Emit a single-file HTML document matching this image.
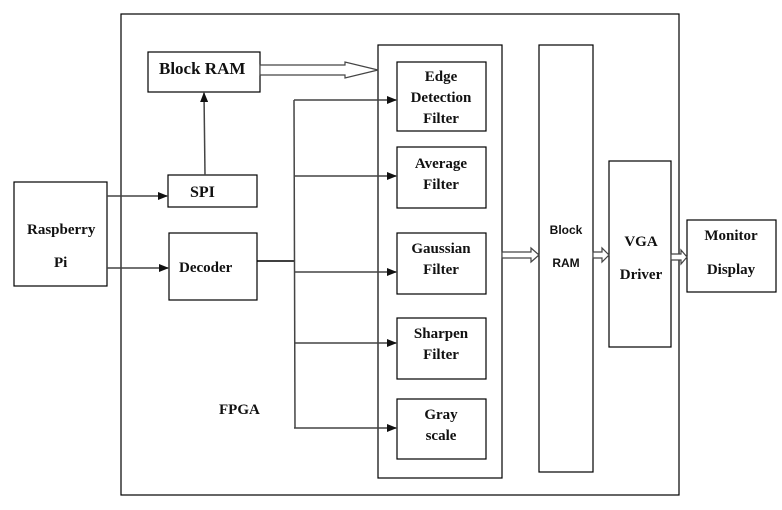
<!DOCTYPE html>
<html><head><style>
html,body{margin:0;padding:0;background:#fff;}
svg{display:block;}
text{font-family:"Liberation Serif",serif;font-weight:bold;font-size:15px;fill:#111;}
.s{font-family:"Liberation Sans",sans-serif;font-size:12px;}
</style></head><body>
<svg width="782" height="510" viewBox="0 0 782 510">
<defs>
<marker id="a" markerWidth="10" markerHeight="8" refX="9" refY="4" orient="auto" markerUnits="userSpaceOnUse">
<path d="M0,0 L10,4 L0,8 Z" fill="#111"/></marker>
</defs>
<g fill="none" stroke="#000" stroke-width="1.2">
<rect x="121" y="14" width="558" height="481"/>
<rect x="148" y="52" width="112" height="40"/>
<rect x="168" y="175" width="89" height="32"/>
<rect x="169" y="233" width="88" height="67"/>
<rect x="14" y="182" width="93" height="104"/>
<rect x="378" y="45" width="124" height="433"/>
<rect x="397" y="62" width="89" height="69"/>
<rect x="397" y="147" width="89" height="61"/>
<rect x="397" y="233" width="89" height="61"/>
<rect x="397" y="318" width="89" height="61"/>
<rect x="397" y="399" width="89" height="60"/>
<rect x="539" y="45" width="54" height="427"/>
<rect x="609" y="161" width="62" height="186"/>
<rect x="687" y="220" width="89" height="72"/>
</g>
<g stroke="#444" stroke-width="1.5" fill="none">
<line x1="107" y1="196" x2="167" y2="196" marker-end="url(#a)"/>
<line x1="107" y1="268" x2="168" y2="268" marker-end="url(#a)"/>
<line x1="205" y1="175" x2="204" y2="93" marker-end="url(#a)"/>
<line x1="257" y1="261" x2="294" y2="261" stroke="#000"/>
<line x1="294" y1="100" x2="295" y2="428"/>
<line x1="294" y1="100" x2="396" y2="100" marker-end="url(#a)"/>
<line x1="294" y1="176" x2="396" y2="176" marker-end="url(#a)"/>
<line x1="294" y1="272" x2="396" y2="272" marker-end="url(#a)"/>
<line x1="294" y1="343" x2="396" y2="343" marker-end="url(#a)"/>
<line x1="294" y1="428" x2="396" y2="428" marker-end="url(#a)"/>
</g>
<g fill="#fff" stroke="#444" stroke-width="1.2">
<path d="M260,65 L345,65 L345,62 L378,70 L345,78 L345,75 L260,75 Z"/>
<path d="M502,252 L531,252 L531,248 L539,255 L531,262 L531,258 L502,258 Z"/>
<path d="M593,252 L602,252 L602,248 L609,255 L602,262 L602,258 L593,258 Z"/>
<path d="M671,254 L681,254 L681,250 L687,257 L681,264 L681,260 L671,260 Z"/>
</g>
<text x="159" y="74" style="font-size:17px">Block RAM</text>
<text x="190" y="197" style="font-size:16px">SPI</text>
<text x="179" y="272">Decoder</text>
<text x="27" y="234">Raspberry</text>
<text x="54" y="267">Pi</text>
<text x="219" y="414">FPGA</text>
<text x="441" y="81" text-anchor="middle">Edge</text>
<text x="441" y="102" text-anchor="middle">Detection</text>
<text x="441" y="123" text-anchor="middle">Filter</text>
<text x="441" y="168" text-anchor="middle">Average</text>
<text x="441" y="189" text-anchor="middle">Filter</text>
<text x="441" y="253" text-anchor="middle">Gaussian</text>
<text x="441" y="274" text-anchor="middle">Filter</text>
<text x="441" y="338" text-anchor="middle">Sharpen</text>
<text x="441" y="359" text-anchor="middle">Filter</text>
<text x="441" y="419" text-anchor="middle">Gray</text>
<text x="441" y="440" text-anchor="middle">scale</text>
<text class="s" x="566" y="234" text-anchor="middle">Block</text>
<text class="s" x="566" y="267" text-anchor="middle">RAM</text>
<text x="641" y="246" text-anchor="middle">VGA</text>
<text x="641" y="279" text-anchor="middle">Driver</text>
<text x="731" y="240" text-anchor="middle">Monitor</text>
<text x="731" y="274" text-anchor="middle">Display</text>
</svg>
</body></html>
